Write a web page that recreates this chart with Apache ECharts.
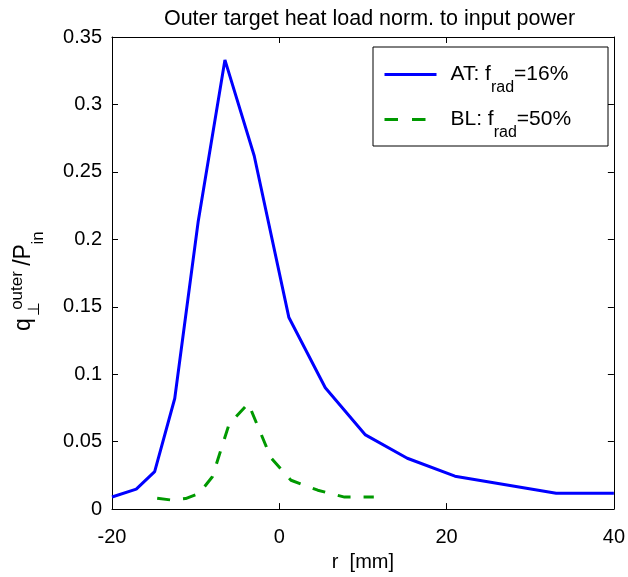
<!DOCTYPE html>
<html>
<head>
<meta charset="utf-8">
<script src="https://cdn.jsdelivr.net/npm/echarts@6/dist/echarts.min.js"></script>
<style>
  html, body { margin: 0; padding: 0; background: #fff; }
  #chart { width: 628px; height: 577px; }
</style>
</head>
<body>
<div id="chart"></div>
<script>
var myChart = echarts.init(document.getElementById('chart'));

// AT case (solid blue)
var atR = [-20, -17.1, -14.9, -12.5, -9.7, -6.5, -3.0, 1.15, 5.5, 10.3, 15.3, 21, 33.1, 40];
var atQ = [0.009, 0.0148, 0.0278, 0.082, 0.213, 0.333, 0.262, 0.142, 0.090, 0.055, 0.0377, 0.0244, 0.0118, 0.0118];

// BL case (dashed green)
var blR = [-14.6, -13.0, -11.2, -9.6, -8.0, -6.0, -3.7, -1.0, 1.4, 4.6, 7.8, 11.3];
var blQ = [0.0081, 0.0068, 0.0078, 0.0115, 0.024, 0.063, 0.0783, 0.038, 0.0214, 0.014, 0.0089, 0.0089];

var seriesNames = ['AT', 'BL'];
var fradLabels = { AT: '16%', BL: '50%' };

var FONT = 'Liberation Sans, Arial, Helvetica, sans-serif';
var BLUE = '#0000ff';
var GREEN = '#009900';

function pairs(xs, ys) {
    return xs.map(function (x, i) { return [x, ys[i]]; });
}

var option = {
    animation: false,
    backgroundColor: '#fff',
    title: {
        text: 'Outer target heat load norm. to input power',
        left: 364.5,
        textAlign: 'center',
        top: 3,
        textStyle: { fontFamily: FONT, fontSize: 21.5, fontWeight: 'normal', color: '#000' }
    },
    grid: { left: 112, right: 11, top: 37, bottom: 66, containLabel: false },
    xAxis: [{
        type: 'value', min: -20, max: 40, interval: 20,
        name: 'r  [mm]', nameLocation: 'middle', nameGap: 40,
        nameTextStyle: { fontFamily: FONT, fontSize: 20, color: '#000' },
        axisLine: { onZero: false, lineStyle: { color: '#000', width: 1 } },
        axisTick: { inside: true, length: 6, lineStyle: { color: '#000' } },
        axisLabel: { fontFamily: FONT, fontSize: 20, color: '#000', margin: 18 },
        splitLine: { show: false }
    }, {
        type: 'value', min: -20, max: 40, interval: 20, position: 'top',
        axisLine: { onZero: false, lineStyle: { color: '#000', width: 1 } },
        axisTick: { inside: true, length: 6, lineStyle: { color: '#000' } },
        axisLabel: { show: false },
        splitLine: { show: false }
    }],
    yAxis: [{
        type: 'value', min: 0, max: 0.35, interval: 0.05,
        axisLine: { onZero: false, lineStyle: { color: '#000', width: 1 } },
        axisTick: { inside: true, length: 6, lineStyle: { color: '#000' } },
        axisLabel: { fontFamily: FONT, fontSize: 20, color: '#000', margin: 10 },
        splitLine: { show: false }
    }, {
        type: 'value', min: 0, max: 0.35, interval: 0.05, position: 'right',
        axisLine: { onZero: false, lineStyle: { color: '#000', width: 1 } },
        axisTick: { inside: true, length: 6, lineStyle: { color: '#000' } },
        axisLabel: { show: false },
        splitLine: { show: false }
    }],
    legend: {
        orient: 'vertical',
        left: 383,
        top: 64,
        padding: 0,
        z: 20,
        itemGap: 13,
        itemWidth: 52,
        itemHeight: 14,
        itemStyle: { opacity: 0 },
        lineStyle: { width: 3 },
        data: [
            { name: seriesNames[0] },
            { name: seriesNames[1], lineStyle: { width: 3, type: [13.5, 14] } }
        ],
        formatter: function (name) {
            return '{n|' + name + ': f}{s|rad}{n|=' + fradLabels[name] + '}';
        },
        textStyle: {
            padding: [0, 0, 0, 9],
            rich: {
                n: { fontFamily: FONT, fontSize: 21, color: '#000', lineHeight: 36 },
                s: { fontFamily: FONT, fontSize: 16, color: '#000', height: 9, lineHeight: 9, verticalAlign: 'bottom' }
            }
        }
    },
    graphic: [
        {
            type: 'rect', z: 1,
            shape: { x: 373, y: 47, width: 235, height: 99 },
            style: { fill: '#fff', stroke: '#000', lineWidth: 1 }
        },
        {
            type: 'group', x: 31, y: 282, rotation: Math.PI / 2,
            children: [
                { type: 'text', x: -42.5, y: -7.5, style: { text: 'q', fontFamily: FONT, fontSize: 23, fill: '#000', align: 'center', verticalAlign: 'middle' } },
                { type: 'text', x: -27, y: 4, style: { text: '\u22a5', fontFamily: FONT, fontSize: 16, fill: '#000', align: 'center', verticalAlign: 'middle' } },
                { type: 'text', x: -8.5, y: -14, style: { text: 'outer', fontFamily: FONT, fontSize: 17, fill: '#000', align: 'center', verticalAlign: 'middle' } },
                { type: 'text', x: 27, y: -7.5, style: { text: '/P', fontFamily: FONT, fontSize: 23, fill: '#000', align: 'center', verticalAlign: 'middle' } },
                { type: 'text', x: 44, y: 7, style: { text: 'in', fontFamily: FONT, fontSize: 17, fill: '#000', align: 'center', verticalAlign: 'middle' } }
            ]
        }
    ],
    series: [{
        name: seriesNames[0],
        type: 'line',
        data: pairs(atR, atQ),
        symbol: 'none',
        lineStyle: { color: BLUE, width: 3 },
        itemStyle: { color: BLUE }
    }, {
        name: seriesNames[1],
        type: 'line',
        data: pairs(blR, blQ),
        symbol: 'none',
        lineStyle: { color: GREEN, width: 3, type: [13, 13] },
        itemStyle: { color: GREEN }
    }]
};

myChart.setOption(option);
</script>
</body>
</html>
